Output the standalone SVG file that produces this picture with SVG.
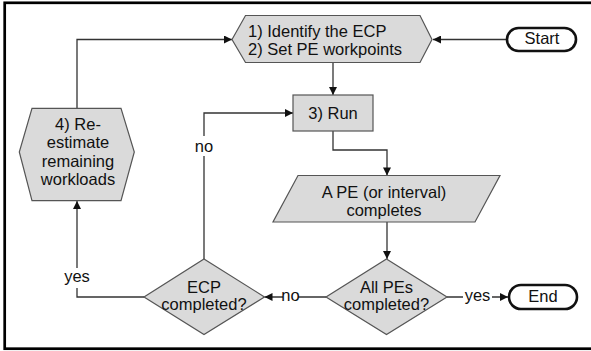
<svg xmlns="http://www.w3.org/2000/svg" width="591" height="351" viewBox="0 0 591 351">
<style>
  .shape { fill: #dadada; stroke: #555; stroke-width: 1.2; }
  .term { fill: #fff; stroke: #111; stroke-width: 2.6; }
  .conn { fill: none; stroke: #333; stroke-width: 1.3; }
  text { font-family: "Liberation Sans", Arial, sans-serif; font-size: 16.5px; fill: #111; }
  .c { text-anchor: middle; }
  .bg { fill: #fff; }
</style>
<defs>
  <marker id="arr" viewBox="0 0 10 10" refX="10" refY="5" markerWidth="9" markerHeight="8" markerUnits="userSpaceOnUse" orient="auto">
    <path d="M0,0 L10,5 L0,10 z" fill="#111"/>
  </marker>
</defs>
<rect x="4.7" y="2.8" width="620" height="345.9" fill="#fff" stroke="#000" stroke-width="2.7"/>

<g id="connectors">
  <path class="conn" d="M507,39.5 H433" marker-end="url(#arr)"/>
  <path class="conn" d="M77,108 V39.5 H232" marker-end="url(#arr)"/>
  <path class="conn" d="M333,62.5 V95" marker-end="url(#arr)"/>
  <path class="conn" d="M333,131 V150 H387 V175.5" marker-end="url(#arr)"/>
  <path class="conn" d="M387,222 V259" marker-end="url(#arr)"/>
  <path class="conn" d="M447,297 H508" marker-end="url(#arr)"/>
  <path class="conn" d="M326,297 H264.5" marker-end="url(#arr)"/>
  <path class="conn" d="M204,259 V113 H293" marker-end="url(#arr)"/>
  <path class="conn" d="M144,297 H77 V201" marker-end="url(#arr)"/>
  <rect class="bg" x="463" y="288" width="29" height="16"/>
  <text class="c" x="477.5" y="301">yes</text>
  <rect class="bg" x="283" y="288" width="15" height="16"/>
  <text class="c" x="290.5" y="301">no</text>
  <rect class="bg" x="195" y="136" width="18" height="20"/>
  <text class="c" x="204" y="151.5">no</text>
  <rect class="bg" x="62" y="268" width="30" height="20"/>
  <text class="c" x="77" y="282">yes</text>
</g>

<g id="start">
  <rect class="term" x="507" y="28" width="69" height="23" rx="11.5"/>
  <text class="c" x="542" y="44">Start</text>
</g>

<g id="identify">
  <polygon class="shape" points="232,39.5 245.5,15.5 420,15.5 432,39.5 420,62.5 245.5,62.5"/>
  <text x="248" y="36.7">1) Identify the ECP</text>
  <text x="248" y="55">2) Set PE workpoints</text>
</g>

<g id="run">
  <rect class="shape" x="293" y="95" width="80" height="36"/>
  <text class="c" x="333" y="118.7">3) Run</text>
</g>

<g id="reestimate">
  <polygon class="shape" points="32,108.3 121,108.3 134.3,152 121,200.7 32,200.7 19.3,152"/>
  <text class="c" x="78" y="130">4) Re-</text>
  <text class="c" x="78" y="148.3">estimate</text>
  <text class="c" x="78" y="166.7">remaining</text>
  <text class="c" x="78" y="185">workloads</text>
</g>

<g id="completes">
  <polygon class="shape" points="298,175.5 500,175.5 475,222 273,222"/>
  <text class="c" x="384" y="198.3">A PE (or interval)</text>
  <text class="c" x="384" y="216">completes</text>
</g>

<g id="allpes">
  <polygon class="shape" points="386.5,259 447,297 386.5,334.5 326,297"/>
  <text class="c" x="386.5" y="292.7">All PEs</text>
  <text class="c" x="386.5" y="310.3">completed?</text>
</g>

<g id="ecp">
  <polygon class="shape" points="204,259 264.5,297 204,334.5 144,297"/>
  <text class="c" x="204" y="292.7">ECP</text>
  <text class="c" x="204" y="310.3">completed?</text>
</g>

<g id="end">
  <rect class="term" x="509" y="285" width="68" height="24" rx="12"/>
  <text class="c" x="543" y="301.5">End</text>
</g>
</svg>
